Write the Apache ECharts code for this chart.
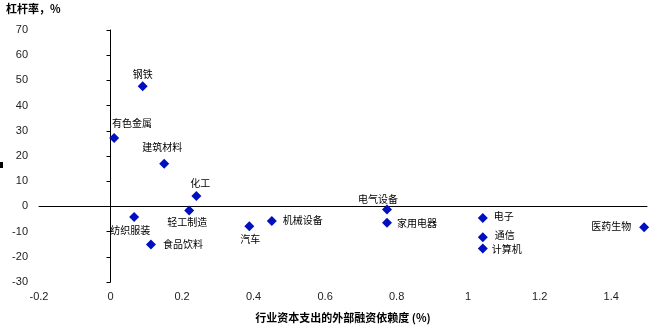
<!DOCTYPE html>
<html>
<head>
<meta charset="utf-8">
<script src="https://cdn.jsdelivr.net/npm/echarts@6/dist/echarts.min.js"></script>
<style>
  html, body { margin: 0; padding: 0; background: #fff; }
  #chart { width: 666px; height: 331px; }
</style>
</head>
<body>
<div id="chart"></div>
<script>
// Industries, external-financing dependence (x) and leverage change (y, %)
const industries = ['钢铁', '有色金属', '建筑材料', '化工', '轻工制造', '纺织服装', '食品饮料', '汽车',
  '机械设备', '电气设备', '家用电器', '电子', '通信', '计算机', '医药生物'];
const dependence = [0.09, 0.01, 0.15, 0.24, 0.22, 0.066, 0.113, 0.388, 0.451, 0.773, 0.773, 1.041, 1.041, 1.041, 1.492];
const leverage = [47.7, 27.1, 16.9, 4.1, -1.6, -4.2, -15.1, -7.9, -5.8, -1.2, -6.5, -4.6, -12.2, -16.7, -8.3];

// Label placement for each industry: [align, dx, dy] relative to the marker centre
const labelPlacement = {
  '钢铁': ['center', 0, -12],
  '有色金属': ['center', 18, -15],
  '建筑材料': ['center', -2, -17],
  '化工': ['center', 4, -13],
  '轻工制造': ['center', -2, 12],
  '纺织服装': ['center', -4, 13],
  '食品饮料': ['left', 12, 0],
  '汽车': ['center', 1, 13],
  '机械设备': ['left', 11, -1],
  '电气设备': ['center', -9, -10],
  '家用电器': ['left', 10, 0],
  '电子': ['left', 11, -2],
  '通信': ['left', 12, -2],
  '计算机': ['left', 9, 1],
  '医药生物': ['right', -13, -1]
};

const cjk = '"Noto Sans CJK SC", "Liberation Sans", sans-serif';
const latin = '"Liberation Sans", Arial, sans-serif';

const points = industries.map((name, i) => {
  const p = labelPlacement[name];
  return {
    name: name,
    value: [dependence[i], leverage[i]],
    label: { align: p[0], offset: [p[1], p[2]] }
  };
});

const xRange = { min: -0.2, max: 1.5, interval: 0.2 };
const yRange = { min: -30, max: 70, interval: 10 };

const chart = echarts.init(document.getElementById('chart'));
chart.setOption({
  animation: false,
  backgroundColor: '#fff',
  grid: { left: 39, right: 19, top: 30, bottom: 49, outerBoundsMode: 'none' },
  xAxis: [
    {
      // tick labels and title along the bottom edge
      type: 'value', ...xRange,
      position: 'bottom',
      axisLine: { show: false, onZero: false },
      axisTick: { show: false },
      splitLine: { show: false },
      axisLabel: { margin: 9, showMaxLabel: false, color: '#222', fontSize: 11, fontFamily: latin },
      name: '行业资本支出的外部融资依赖度 (%)',
      nameLocation: 'middle',
      nameGap: 30,
      nameTextStyle: { color: '#000', fontSize: 11, fontWeight: 'bold', fontFamily: cjk }
    },
    {
      // horizontal zero line
      type: 'value', ...xRange,
      position: 'bottom',
      axisLine: { show: true, onZero: true, onZeroAxisIndex: 0, lineStyle: { color: '#000', width: 1 } },
      axisTick: { show: false },
      axisLabel: { show: false },
      splitLine: { show: false }
    }
  ],
  yAxis: [
    {
      // tick labels on the left edge
      type: 'value', ...yRange,
      position: 'left',
      axisLine: { show: false, onZero: false },
      axisTick: { show: false },
      splitLine: { show: false },
      axisLabel: { margin: 11, color: '#222', fontSize: 11, fontFamily: latin }
    },
    {
      // vertical axis line through x = 0 with outward ticks
      type: 'value', ...yRange,
      position: 'left',
      axisLine: { show: true, onZero: true, onZeroAxisIndex: 0, lineStyle: { color: '#000', width: 1 } },
      axisTick: { show: true, length: 4, lineStyle: { color: '#000' } },
      axisLabel: { show: false },
      splitLine: { show: false }
    }
  ],
  graphic: [
    {
      type: 'text', left: 6, top: 3,
      style: { text: '杠杆率，%', fill: '#000', font: 'bold 11px ' + cjk }
    },
    {
      type: 'rect', shape: { x: 0, y: 162, width: 3, height: 6 },
      style: { fill: '#000' }
    }
  ],
  series: [{
    type: 'scatter',
    xAxisIndex: 0,
    yAxisIndex: 0,
    symbol: 'diamond',
    symbolSize: 10,
    itemStyle: { color: '#0010c0', opacity: 1 },
    label: {
      show: true,
      position: 'inside',
      formatter: '{b}',
      color: '#000',
      fontSize: 10,
      fontFamily: cjk,
      verticalAlign: 'middle'
    },
    data: points
  }]
});
</script>
</body>
</html>
